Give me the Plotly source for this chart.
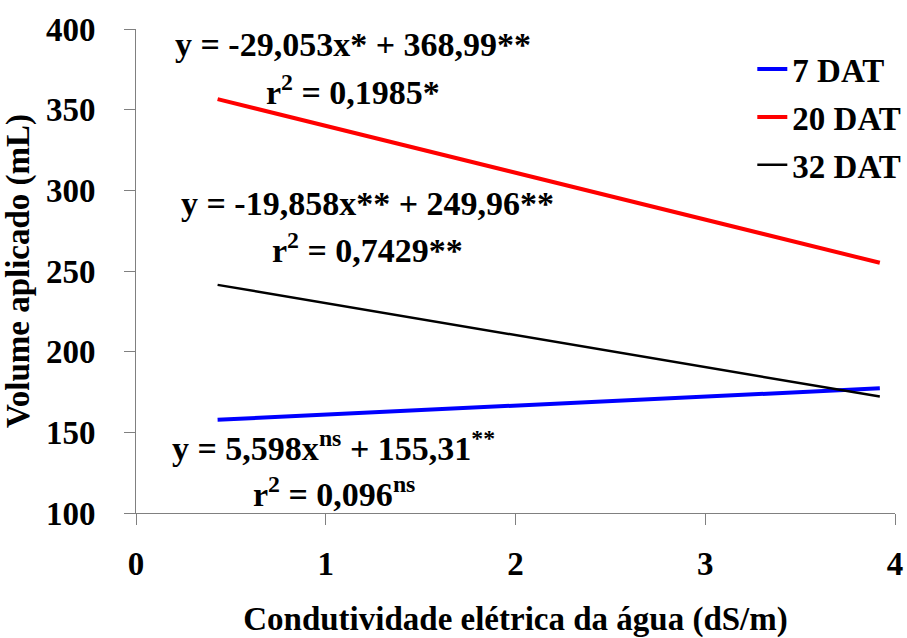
import plotly.graph_objects as go

# Data
ce = [0.43, 3.92]                 # Condutividade elétrica (dS/m)
v7 = [157.8, 177.3]               # 7 DAT
v20 = [356.5, 255.1]              # 20 DAT
v32 = [241.4, 172.2]              # 32 DAT
names = ["7 DAT", "20 DAT", "32 DAT"]
colors = ["#0000FF", "#FF0000", "#000000"]
widths = [4, 4, 2.5]

x_ticks = [0, 1, 2, 3, 4]
y_ticks = [100, 150, 200, 250, 300, 350, 400]

FONT = "Times New Roman"
FS = 33

fig = go.Figure()
for vals, n, c, w in zip([v7, v20, v32], names, colors, widths):
    fig.add_trace(go.Scatter(x=ce, y=vals, mode="lines", name="<b>" + n + "</b>",
                             legendgroup=n, line=dict(color=c, width=w)))

ann = [
    (1.142, 390.7, "<b>y = -29,053x* + 368,99**</b>"),
    (1.142, 362.2, "<b>r<sup>2</sup> = 0,1985*</b>"),
    (1.218, 292.1, "<b>y = -19,858x** + 249,96**</b>"),
    (1.218, 264.3, "<b>r<sup>2</sup> = 0,7429**</b>"),
    (1.042, 141.5, "<b>y = 5,598x<sup>ns</sup> + 155,31<sup>**</sup></b>"),
    (1.042, 113.0, "<b>r<sup>2</sup> = 0,096<sup>ns</sup></b>"),
]
for x, y, t in ann:
    fig.add_annotation(x=x, y=y, text=t, showarrow=False,
                       xanchor="center", yanchor="middle",
                       font=dict(family=FONT, size=34, color="black"))

fig.update_layout(
    width=907, height=638,
    margin=dict(l=136, r=12, t=29, b=125, autoexpand=False),
    paper_bgcolor="white", plot_bgcolor="white",
    font=dict(family=FONT, size=FS, color="black"),
    showlegend=True,
    legend=dict(x=0.812, y=0.975, xanchor="left", yanchor="top",
                font=dict(family=FONT, size=FS, color="black"),
                bgcolor="rgba(0,0,0,0)", tracegroupgap=2),
)

fig.update_xaxes(range=[0, 4], tickvals=x_ticks, ticktext=["<b>%d</b>" % v for v in x_ticks],
                 showgrid=False, zeroline=False, showline=True, linecolor="#808080",
                 linewidth=1, ticks="outside", ticklen=11, tickcolor="#808080",
                 tickfont=dict(family=FONT, size=FS, color="black"),
                 ticklabelstandoff=10, automargin=False,
                 title=dict(text="<b>Condutividade elétrica da água (dS/m)</b>", standoff=37,
                            font=dict(family=FONT, size=FS, color="black")))
fig.update_yaxes(range=[100, 400], tickvals=y_ticks, ticktext=["<b>%d</b>" % v for v in y_ticks],
                 showgrid=False, zeroline=False, showline=True, linecolor="#808080",
                 linewidth=1, ticks="outside", ticklen=11, tickcolor="#808080",
                 tickfont=dict(family=FONT, size=FS, color="black"),
                 ticklabelstandoff=22, automargin=False,
                 title=dict(text="<b>Volume aplicado (mL)</b>", standoff=7,
                            font=dict(family=FONT, size=FS, color="black")))

fig.write_html("out.html", config={"displayModeBar": False},
               post_script="document.body.style.margin='0';")
